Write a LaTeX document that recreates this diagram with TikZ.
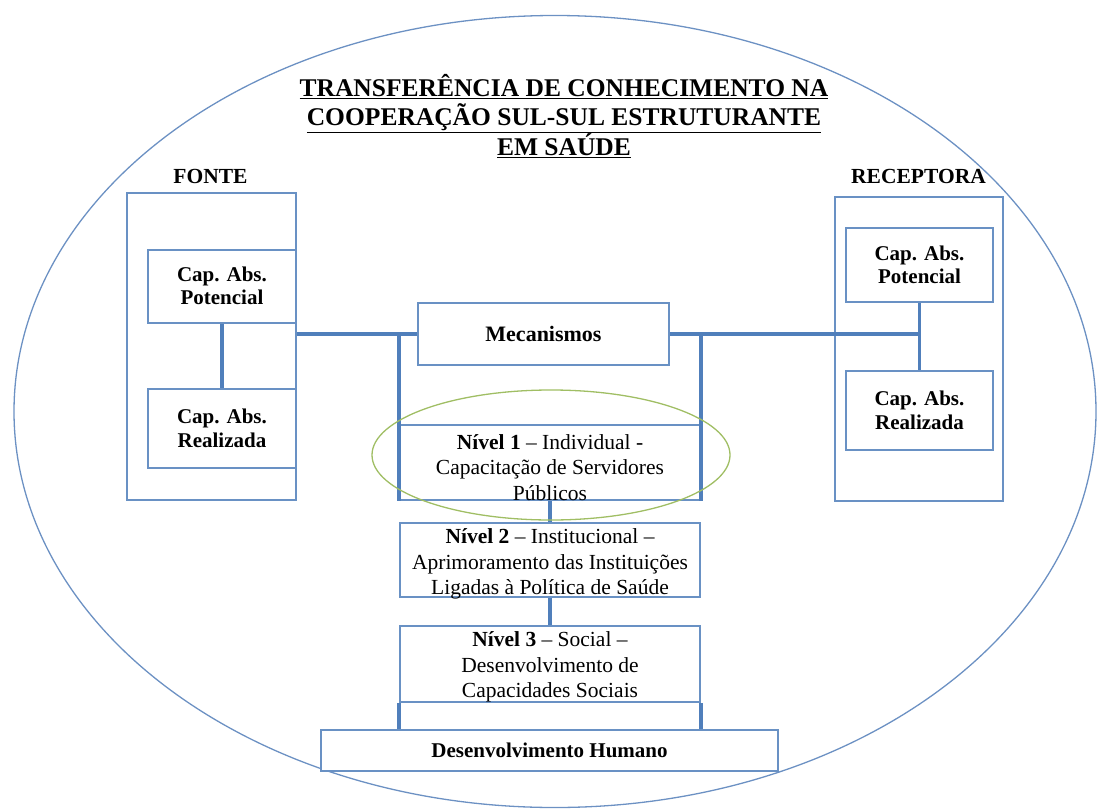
\documentclass[tikz,border=0pt]{standalone}
\usepackage{fontspec}
\setmainfont{Liberation Serif}
\usepackage{tikz}
\usetikzlibrary{positioning, calc}
\definecolor{boxblue}{RGB}{105,145,196}
\definecolor{linkblue}{RGB}{80,127,187}
\definecolor{ringblue}{RGB}{108,145,195}
\definecolor{ringgreen}{RGB}{160,190,100}
\tikzset{
  capbox/.style={draw=boxblue, line width=2pt, fill=white, align=center, inner sep=0pt,
                 font=\fontsize{21}{23.5}\selectfont\bfseries, minimum width=148, minimum height=73},
  sidebox/.style={draw=boxblue, line width=2pt, inner sep=0pt},
  levelbox/.style={draw=boxblue, line width=2pt, fill=white, inner sep=0pt, minimum width=300},
  leveltext/.style={align=center, inner sep=0pt, font=\fontsize{21.5}{25.5}\selectfont},
  sidelabel/.style={font=\fontsize{21.5}{24}\selectfont\bfseries},
  link/.style={draw=linkblue, line width=3.2pt},
}

\begin{document}
\begin{tikzpicture}[x=1pt, y=-1pt]
\useasboundingbox (0,0) rectangle (1098,809);
% ellipse round everything
\draw[ringblue, line width=1.3pt] (555,411.5) ellipse [x radius=541, y radius=396];

\node[font=\fontsize{25.5}{29.5}\selectfont\bfseries, align=center] (title) at (564,116)
  {\underline{TRANSFERÊNCIA DE CONHECIMENTO NA}\\
   \underline{COOPERAÇÃO SUL-SUL ESTRUTURANTE}\\
   \underline{EM SAÚDE}};

% fonte
\node[sidelabel] (fontelbl) at (210.5,176) {FONTE};
\node[sidebox, minimum width=169, minimum height=307] (fonte) at (211.5,346.5) {};
\node[capbox] (fpot) at (222,286) {Cap. Abs.\\Potencial};
\node[capbox, minimum height=79] (freal) at (222,428.5) {Cap. Abs.\\Realizada};

% receptora
\node[sidelabel] (recepLbl) at (918.5,176) {RECEPTORA};
\node[sidebox, minimum width=168, minimum height=304] (recep) at (919,349) {};
\node[capbox, minimum width=147, minimum height=74] (rpot) at (919.5,265) {Cap. Abs.\\Potencial};
\node[capbox, minimum width=147, minimum height=79] (rreal) at (919.5,410.5) {Cap. Abs.\\Realizada};

% centre
\node[capbox, font=\fontsize{22}{26}\selectfont\bfseries, minimum width=251, minimum height=62] (mec) at (543.5,334) {Mecanismos};
\node[levelbox, minimum height=75] (n1) at (550,462.5) {};
\node[leveltext] (n1txt) at ([yshift=-5pt]n1.center)
  {\textbf{Nível 1} – Individual -\\Capacitação de Servidores\\Públicos};
\node[levelbox, minimum height=74] (n2) at (550,560) {};
\node[leveltext] (n2txt) at ([yshift=-4pt]n2.center)
  {\textbf{Nível 2} – Institucional –\\Aprimoramento das Instituições\\Ligadas à Política de Saúde};
\node[levelbox, minimum height=76] (n3) at (550,664) {};
\node[leveltext] (n3txt) at ([yshift=-3pt]n3.center)
  {\textbf{Nível 3} – Social –\\Desenvolvimento de\\Capacidades Sociais};
\node[capbox, minimum width=457, minimum height=41] (dh) at (549.5,750.5) {Desenvolvimento Humano};

% connectors
\draw[link] (fpot) -- (freal);
\draw[link] (rpot) -- (rreal);
\draw[link] (mec.west) -- (mec.west -| fonte.east);
\draw[link] (mec.east) -- (mec.east -| rpot.south);
\draw[link] (n1.north west |- mec.west) -- (n1.south west);
\draw[link] (n1.north east |- mec.east) -- (n1.south east);
\draw[link] (n1) -- (n2);
\draw[link] (n2) -- (n3);
\draw[link] (n3.south west) -- (n3.south west |- dh.north);
\draw[link] (n3.south east) -- (n3.south east |- dh.north);

% nivel 1 ring
\draw[ringgreen, line width=1.3pt] (551,455) ellipse [x radius=179, y radius=65];
\end{tikzpicture}
\end{document}
